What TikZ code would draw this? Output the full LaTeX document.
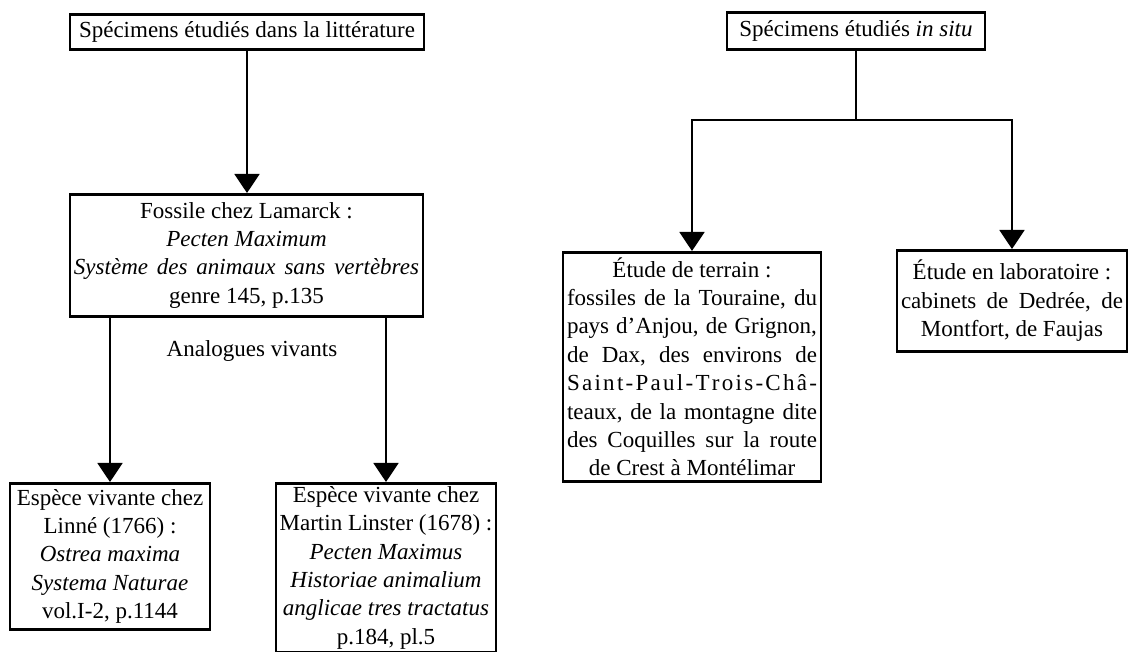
\documentclass[tikz,border=0pt]{standalone}
\usepackage{fontspec}
\setmainfont{Liberation Serif}
\usetikzlibrary{arrows.meta}
\tikzset{
  boite/.style={draw, line width=1.3pt, inner sep=1.5pt, align=center, anchor=north},
  fleche/.style={line width=1pt, -{Triangle[width=12.5pt,length=9.5pt]}},
  trait/.style={line width=1pt},
}
% justified line of a given width
\newcommand{\justif}[2]{\makebox[#1][s]{\frenchspacing\spaceskip=\fontdimen2\font plus 1fil\relax #2}}

\begin{document}
\begin{tikzpicture}[x=0.5pt,y=-0.5pt,font=\fontsize{11.5}{14.2}\selectfont]
  \useasboundingbox (0,0) rectangle (1132,652);

  % Specimens from the literature
  \node[boite, minimum width=177pt, minimum height=17.5pt] (litt) at (247,13)
    {Spécimens étudiés dans la littérature};
  \node[boite, minimum width=176.5pt, minimum height=61pt] (lamarck) at (246.5,193)
    {Fossile chez Lamarck :\\ \textit{Pecten Maximum}\\
     \textit{\justif{172.5pt}{Système des animaux sans vertèbres}}\\ genre 145, p.135};
  \node (analogues) at (252,351) {Analogues vivants};
  \node[boite, minimum width=100pt, minimum height=73pt] (linne) at (110,482)
    {Espèce vivante chez\\ Linné (1766) :\\ \textit{Ostrea maxima}\\
     \textit{Systema Naturae}\\ vol.I-2, p.1144};
  \node[boite, minimum width=110pt, minimum height=84pt] (lister) at (386,482)
    {Espèce vivante chez\\ Martin Linster (1678) :\\ \textit{Pecten Maximus}\\
     \textit{Historiae animalium}\\ \textit{anglicae tres tractatus}\\ p.184, pl.5};

  \draw[fleche] (litt.south) -- (litt.south |- lamarck.north);
  \draw[fleche] (lamarck.south -| linne.north) -- (linne.north);
  \draw[fleche] (lamarck.south -| lister.north) -- (lister.north);

  % Specimens in situ
  \node[boite, minimum width=129pt, minimum height=18.5pt] (insitu) at (856,11)
    {Spécimens étudiés \textit{in situ}};
  \node[boite, minimum width=129pt, minimum height=114.5pt] (terrain) at (692,251)
    {Étude de terrain :\\ \justif{125pt}{fossiles de la Touraine, du}\\
     \justif{125pt}{pays d’Anjou, de Grignon,}\\ \justif{125pt}{de Dax, des environs de}\\
     \justif{125pt}{S\hfil a\hfil i\hfil n\hfil t\hfil -\hfil P\hfil a\hfil u\hfil l\hfil
       -\hfil T\hfil r\hfil o\hfil i\hfil s\hfil -\hfil C\hfil h\hfil â\hfil -}\\
     \justif{125pt}{teaux, de la montagne dite}\\ \justif{125pt}{des Coquilles sur la route}\\
     de Crest à Montélimar};
  \node[boite, minimum width=115pt, minimum height=50.5pt] (labo) at (1012,249)
    {Étude en laboratoire :\\ \justif{111pt}{cabinets de Dedrée, de}\\ Montfort, de Faujas};

  \coordinate (embr) at (insitu.south |- 0,120);
  \draw[trait] (insitu.south) -- (embr);
  \draw[fleche] (embr) -| (terrain.north);
  \draw[fleche] (embr) -| (labo.north);
\end{tikzpicture}
\end{document}
